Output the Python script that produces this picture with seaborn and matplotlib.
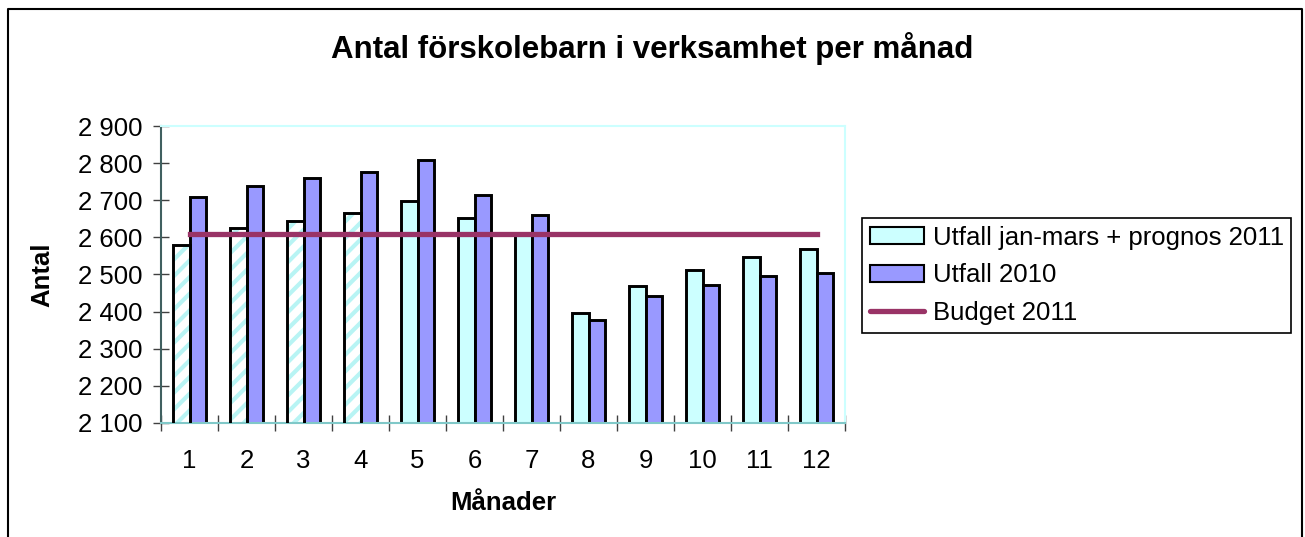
import numpy as np
import pandas as pd
import seaborn as sns
import matplotlib.pyplot as plt
from matplotlib.patches import Patch, Rectangle
from matplotlib.lines import Line2D
from matplotlib.ticker import FuncFormatter

# Values
months = [str(m) for m in range(1, 13)]
prognos_2011 = [2579, 2626, 2644, 2667, 2698, 2653, 2612, 2396, 2470, 2512, 2547, 2569]
utfall_2010 = [2710, 2739, 2760, 2777, 2808, 2715, 2660, 2378, 2443, 2472, 2496, 2503]
budget_2011 = [2610] * 12
series_names = ["Utfall jan-mars + prognos 2011", "Utfall 2010", "Budget 2011"]

df = pd.DataFrame({
    "Månad": months * 2,
    "Antal": prognos_2011 + utfall_2010,
    "Serie": [series_names[0]] * 12 + [series_names[1]] * 12,
})

cyan = "#CCFFFF"
blue = "#9999FF"
budget_color = "#993366"

sns.set_theme(style="white")
plt.rcParams["font.family"] = ["Liberation Sans", "DejaVu Sans"]
plt.rcParams["hatch.linewidth"] = 3.0
for key in ["text.color", "axes.labelcolor", "xtick.labelcolor", "ytick.labelcolor"]:
    plt.rcParams[key] = "black"

fs = 18.5

fig = plt.figure(figsize=(13.05, 5.37), dpi=100)
ax = fig.add_axes([161 / 1305, 1 - 423 / 537, (845 - 161) / 1305, (423 - 126) / 537])

sns.barplot(data=df, x="Månad", y="Antal", hue="Serie", order=months,
            palette=[cyan, blue], width=0.58, gap=0, saturation=1,
            edgecolor="black", linewidth=2.1, legend=False, ax=ax)

# first four months of 2011 are hatched (actual outcome)
for p in ax.containers[0].patches[:4]:
    p.set_facecolor("white")
    p.set_hatch("//")
    p.set_edgecolor("#B8F4F4")
    p.set_linewidth(0)
    ax.add_patch(Rectangle(p.get_xy(), p.get_width(), p.get_height(),
                           fill=False, edgecolor="black", linewidth=2.1, zorder=3))

sns.lineplot(x=np.arange(len(months)), y=budget_2011, color=budget_color,
             linewidth=3.8, solid_capstyle="projecting", ax=ax, zorder=4)

ax.set_ylim(2100, 2900)
ax.set_xlim(-0.5, 11.5)
ax.set_yticks(np.arange(2100, 2901, 100))
ax.yaxis.set_major_formatter(FuncFormatter(lambda v, _: f"{int(v):,}".replace(",", " ")))
ax.tick_params(axis="y", direction="inout", length=11, width=1, color="#404040",
               labelsize=fs, pad=8, left=True)
ax.set_xticks(np.arange(-0.5, 12, 1), minor=True)
ax.tick_params(axis="x", which="minor", direction="inout", length=11, width=1,
               color="#404040", bottom=True)
ax.tick_params(axis="x", which="major", length=0, labelsize=fs, pad=19)

ax.set_xlabel("Månader", fontsize=fs, fontweight="bold", labelpad=13)
ax.set_ylabel("Antal", fontsize=fs, fontweight="bold", labelpad=17)

ax.spines["left"].set_color("#406060")
ax.spines["bottom"].set_color("#80C8C8")
ax.spines["top"].set_color(cyan)
ax.spines["right"].set_color(cyan)
for s in ax.spines.values():
    s.set_linewidth(1.5)

fig.suptitle("Antal förskolebarn i verksamhet per månad", fontsize=22.5,
             fontweight="bold", x=0.5, y=0.94)

handles = [
    Patch(facecolor=cyan, edgecolor="black", linewidth=1.5),
    Patch(facecolor=blue, edgecolor="black", linewidth=1.5),
    Line2D([], [], color=budget_color, linewidth=3.8),
]
leg = fig.legend(handles, series_names, loc="upper left",
                 bbox_to_anchor=(862 / 1305, 1 - 218 / 537), fontsize=fs,
                 frameon=True, fancybox=False, edgecolor="black", framealpha=1,
                 handlelength=2.1, handleheight=0.65, handletextpad=0.35,
                 borderpad=0.3, labelspacing=0.53, borderaxespad=0)
leg.get_frame().set_linewidth(1.2)

# outer chart border (left, top, right)
fig.add_artist(Line2D([8 / 1305, 8 / 1305, 1302 / 1305, 1302 / 1305],
                      [0, 1 - 9 / 537, 1 - 9 / 537, 0],
                      transform=fig.transFigure, color="black", linewidth=1.5))

fig.savefig("out.png", dpi=100, facecolor="white")
